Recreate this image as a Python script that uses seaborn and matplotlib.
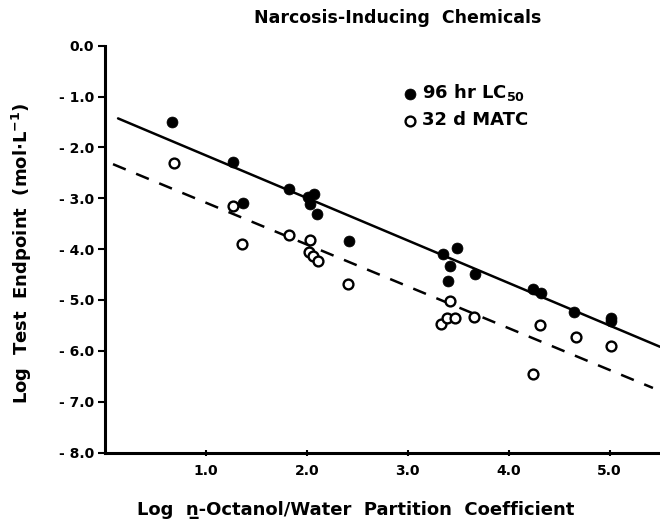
import numpy as np
import pandas as pd
import matplotlib
matplotlib.use("Agg")
import matplotlib.pyplot as plt
import seaborn as sns

# ── data ────────────────────────────────────────────────────
lc50_logp = [0.66, 1.27, 1.37, 1.82, 2.01, 2.07, 2.03, 2.10, 2.42,
             3.35, 3.49, 3.42, 3.40, 3.67, 4.24, 4.32, 4.65, 5.01, 5.01]
lc50_val = [-1.50, -2.28, -3.10, -2.81, -2.97, -2.92, -3.11, -3.30, -3.85,
            -4.10, -3.98, -4.33, -4.62, -4.48, -4.79, -4.87, -5.23, -5.36, -5.41]

matc_logp = [0.68, 1.27, 1.36, 1.82, 2.03, 2.02, 2.06, 2.11, 2.41,
             3.42, 3.33, 3.39, 3.47, 3.66, 4.31, 4.24, 4.67, 5.01]
matc_val = [-2.31, -3.15, -3.89, -3.72, -3.83, -4.06, -4.13, -4.23, -4.69,
            -5.02, -5.47, -5.36, -5.36, -5.33, -5.50, -6.46, -5.73, -5.90]

# regression lines (ends as drawn in the original)
lc50_fit_x = [0.13, 5.50]
lc50_fit_y = [-1.43, -5.92]
matc_fit_x = [0.08, 5.43]
matc_fit_y = [-2.33, -6.73]

x_ticks = [1.0, 2.0, 3.0, 4.0, 5.0]
x_tick_labels = ["1.0", "2.0", "3.0", "4.0", "5.0"]
y_ticks = [0, -1, -2, -3, -4, -5, -6, -7, -8]
y_tick_labels = ["0.0", "- 1.0", "- 2.0", "- 3.0", "- 4.0",
                 "- 5.0", "- 6.0", "- 7.0", "- 8.0"]

# ── style ───────────────────────────────────────────────────
sns.set_theme(style="ticks")
plt.rcParams.update({
    "font.family": ["DejaVu Sans"],
    "font.weight": "bold",
    "mathtext.default": "bf",
    "text.color": "black",
    "axes.labelcolor": "black",
    "axes.edgecolor": "black",
    "xtick.color": "black",
    "ytick.color": "black",
})

fig = plt.figure(figsize=(6.6, 5.25), dpi=100)
ax = fig.add_axes([0.159, 0.138, 0.841, 0.775])

sns.lineplot(x=lc50_fit_x, y=lc50_fit_y, ax=ax, color="black", lw=1.8)
sns.lineplot(x=matc_fit_x, y=matc_fit_y, ax=ax, color="black", lw=1.8,
             linestyle=(0, (5.5, 4.5)))

sns.scatterplot(x=lc50_logp, y=lc50_val, ax=ax, color="black", s=62,
                edgecolor="black", linewidth=0.5, label=r"96 hr LC$_{50}$",
                zorder=3)
sns.scatterplot(x=matc_logp, y=matc_val, ax=ax, facecolor="white", s=50,
                edgecolor="black", linewidth=1.7, label="32 d MATC", zorder=3)

ax.set_xlim(0, 5.5)
ax.set_ylim(-8, 0)
ax.set_xticks(x_ticks)
ax.set_xticklabels(x_tick_labels, fontsize=10, fontweight="bold")
ax.set_yticks(y_ticks)
ax.set_yticklabels(y_tick_labels, fontsize=10, fontweight="bold")
ax.tick_params(axis="y", direction="out", length=5, width=1.5, pad=3)
ax.tick_params(axis="x", direction="inout", length=5, width=1.5, pad=6)

sns.despine(ax=ax)
for side in ["left", "bottom"]:
    ax.spines[side].set_linewidth(2.2)
ax.spines["left"].set_bounds(-8, 0)

ax.set_xlabel("Log  n\u0332-Octanol/Water  Partition  Coefficient",
              fontsize=13, fontweight="bold")
ax.xaxis.set_label_coords(0.452, -0.118)
ax.set_ylabel(r"Log  Test  Endpoint  (mol$\cdot$L$^{-1}$)",
              fontsize=13, fontweight="bold")
ax.yaxis.set_label_coords(-0.128, 0.49)
fig.text(0.602, 0.965, "Narcosis-Inducing  Chemicals", ha="center",
         va="center", fontsize=12.5, fontweight="bold")

leg = ax.legend(loc="upper left", bbox_to_anchor=(0.525, 0.932),
                frameon=False, handlelength=0.5,
                handletextpad=0.4, labelspacing=0.45, borderpad=0,
                prop={"weight": "bold", "size": 13})

fig.savefig("out.png", dpi=100)
